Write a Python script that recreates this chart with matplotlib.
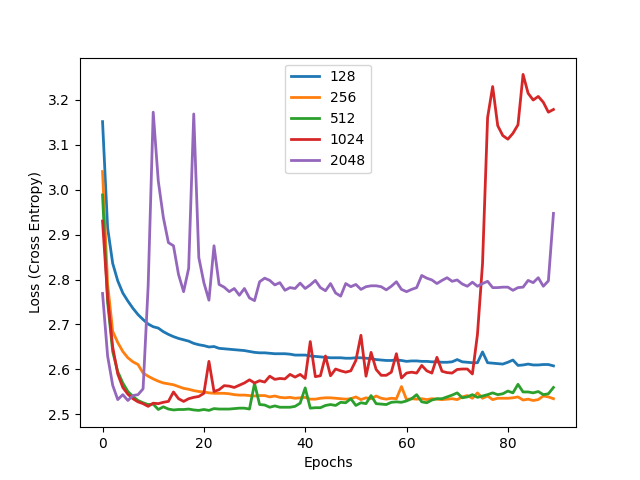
import matplotlib
matplotlib.use("Agg")
import matplotlib.pyplot as plt

batch_sizes = ["128", "256", "512", "1024", "2048"]

loss_128 = [3.151, 2.915, 2.836, 2.797, 2.770, 2.752, 2.736, 2.722, 2.711, 2.701,
            2.695, 2.692, 2.684, 2.678, 2.673, 2.669, 2.666, 2.663, 2.658, 2.655,
            2.653, 2.650, 2.651, 2.647, 2.646, 2.645, 2.644, 2.643, 2.642, 2.640,
            2.638, 2.637, 2.637, 2.636, 2.635, 2.635, 2.635, 2.634, 2.632, 2.632,
            2.632, 2.630, 2.629, 2.628, 2.627, 2.626, 2.626, 2.626, 2.625, 2.625,
            2.626, 2.626, 2.625, 2.624, 2.622, 2.621, 2.620, 2.620, 2.621, 2.620,
            2.618, 2.619, 2.619, 2.618, 2.618, 2.617, 2.617, 2.616, 2.616, 2.617,
            2.622, 2.617, 2.616, 2.615, 2.615, 2.639, 2.615, 2.614, 2.613, 2.612,
            2.616, 2.621, 2.609, 2.610, 2.612, 2.610, 2.610, 2.611, 2.611, 2.608]

loss_256 = [3.040, 2.790, 2.685, 2.660, 2.640, 2.626, 2.617, 2.611, 2.592, 2.585,
            2.579, 2.574, 2.570, 2.568, 2.566, 2.562, 2.558, 2.556, 2.553, 2.551,
            2.550, 2.548, 2.547, 2.547, 2.547, 2.546, 2.544, 2.543, 2.543, 2.542,
            2.541, 2.542, 2.542, 2.539, 2.541, 2.538, 2.537, 2.538, 2.536, 2.537,
            2.538, 2.534, 2.534, 2.536, 2.537, 2.537, 2.536, 2.535, 2.534, 2.535,
            2.539, 2.533, 2.537, 2.535, 2.541, 2.536, 2.534, 2.536, 2.535, 2.562,
            2.533, 2.535, 2.534, 2.535, 2.533, 2.535, 2.534, 2.533, 2.534, 2.535,
            2.533, 2.539, 2.542, 2.536, 2.548, 2.536, 2.541, 2.533, 2.536, 2.536,
            2.536, 2.537, 2.539, 2.532, 2.534, 2.531, 2.533, 2.541, 2.539, 2.535]

loss_512 = [2.988, 2.750, 2.640, 2.595, 2.570, 2.551, 2.540, 2.531, 2.526, 2.522,
            2.523, 2.511, 2.517, 2.512, 2.510, 2.511, 2.511, 2.512, 2.510, 2.509,
            2.511, 2.509, 2.513, 2.512, 2.512, 2.512, 2.513, 2.514, 2.514, 2.512,
            2.569, 2.522, 2.521, 2.516, 2.519, 2.516, 2.516, 2.516, 2.518, 2.525,
            2.559, 2.514, 2.515, 2.515, 2.520, 2.522, 2.520, 2.527, 2.526, 2.535,
            2.520, 2.526, 2.524, 2.542, 2.524, 2.523, 2.522, 2.527, 2.528, 2.527,
            2.530, 2.535, 2.544, 2.528, 2.526, 2.532, 2.535, 2.535, 2.539, 2.543,
            2.548, 2.537, 2.539, 2.544, 2.538, 2.541, 2.544, 2.548, 2.544, 2.546,
            2.552, 2.548, 2.567, 2.550, 2.550, 2.548, 2.551, 2.544, 2.546, 2.560]

loss_1024 = [2.930, 2.760, 2.650, 2.590, 2.560, 2.545, 2.535, 2.528, 2.524, 2.518,
             2.525, 2.524, 2.527, 2.529, 2.550, 2.535, 2.529, 2.535, 2.538, 2.540,
             2.547, 2.618, 2.551, 2.555, 2.564, 2.563, 2.560, 2.565, 2.570, 2.577,
             2.570, 2.575, 2.572, 2.585, 2.578, 2.580, 2.579, 2.589, 2.583, 2.589,
             2.580, 2.662, 2.584, 2.586, 2.630, 2.586, 2.601, 2.597, 2.594, 2.597,
             2.620, 2.676, 2.585, 2.638, 2.600, 2.587, 2.587, 2.594, 2.635, 2.581,
             2.592, 2.594, 2.592, 2.609, 2.597, 2.592, 2.627, 2.596, 2.593, 2.592,
             2.600, 2.601, 2.601, 2.590, 2.678, 2.835, 3.160, 3.229, 3.142, 3.120,
             3.112, 3.125, 3.144, 3.256, 3.214, 3.199, 3.207, 3.194, 3.172, 3.178]

loss_2048 = [2.769, 2.630, 2.565, 2.533, 2.544, 2.531, 2.542, 2.544, 2.557, 2.785,
             3.172, 3.019, 2.938, 2.882, 2.875, 2.811, 2.773, 2.825, 3.168, 2.849,
             2.793, 2.754, 2.875, 2.789, 2.783, 2.773, 2.780, 2.765, 2.780, 2.759,
             2.753, 2.795, 2.803, 2.798, 2.788, 2.793, 2.776, 2.782, 2.780, 2.792,
             2.780, 2.788, 2.798, 2.782, 2.775, 2.791, 2.770, 2.763, 2.791, 2.784,
             2.789, 2.778, 2.784, 2.786, 2.786, 2.784, 2.777, 2.785, 2.795, 2.778,
             2.773, 2.778, 2.782, 2.809, 2.803, 2.799, 2.791, 2.798, 2.804, 2.796,
             2.799, 2.790, 2.785, 2.794, 2.785, 2.791, 2.796, 2.782, 2.782, 2.783,
             2.783, 2.776, 2.782, 2.783, 2.798, 2.793, 2.804, 2.785, 2.797, 2.947]

all_losses = [loss_128, loss_256, loss_512, loss_1024, loss_2048]
epochs = list(range(len(loss_128)))

fig, ax = plt.subplots(figsize=(6.4, 4.8), dpi=100)
for name, losses in zip(batch_sizes, all_losses):
    ax.plot(epochs, losses, linewidth=2, label=name)

ax.set_xlabel("Epochs")
ax.set_ylabel("Loss (Cross Entropy)")
ax.legend(loc="upper center")
plt.savefig("out.png")
